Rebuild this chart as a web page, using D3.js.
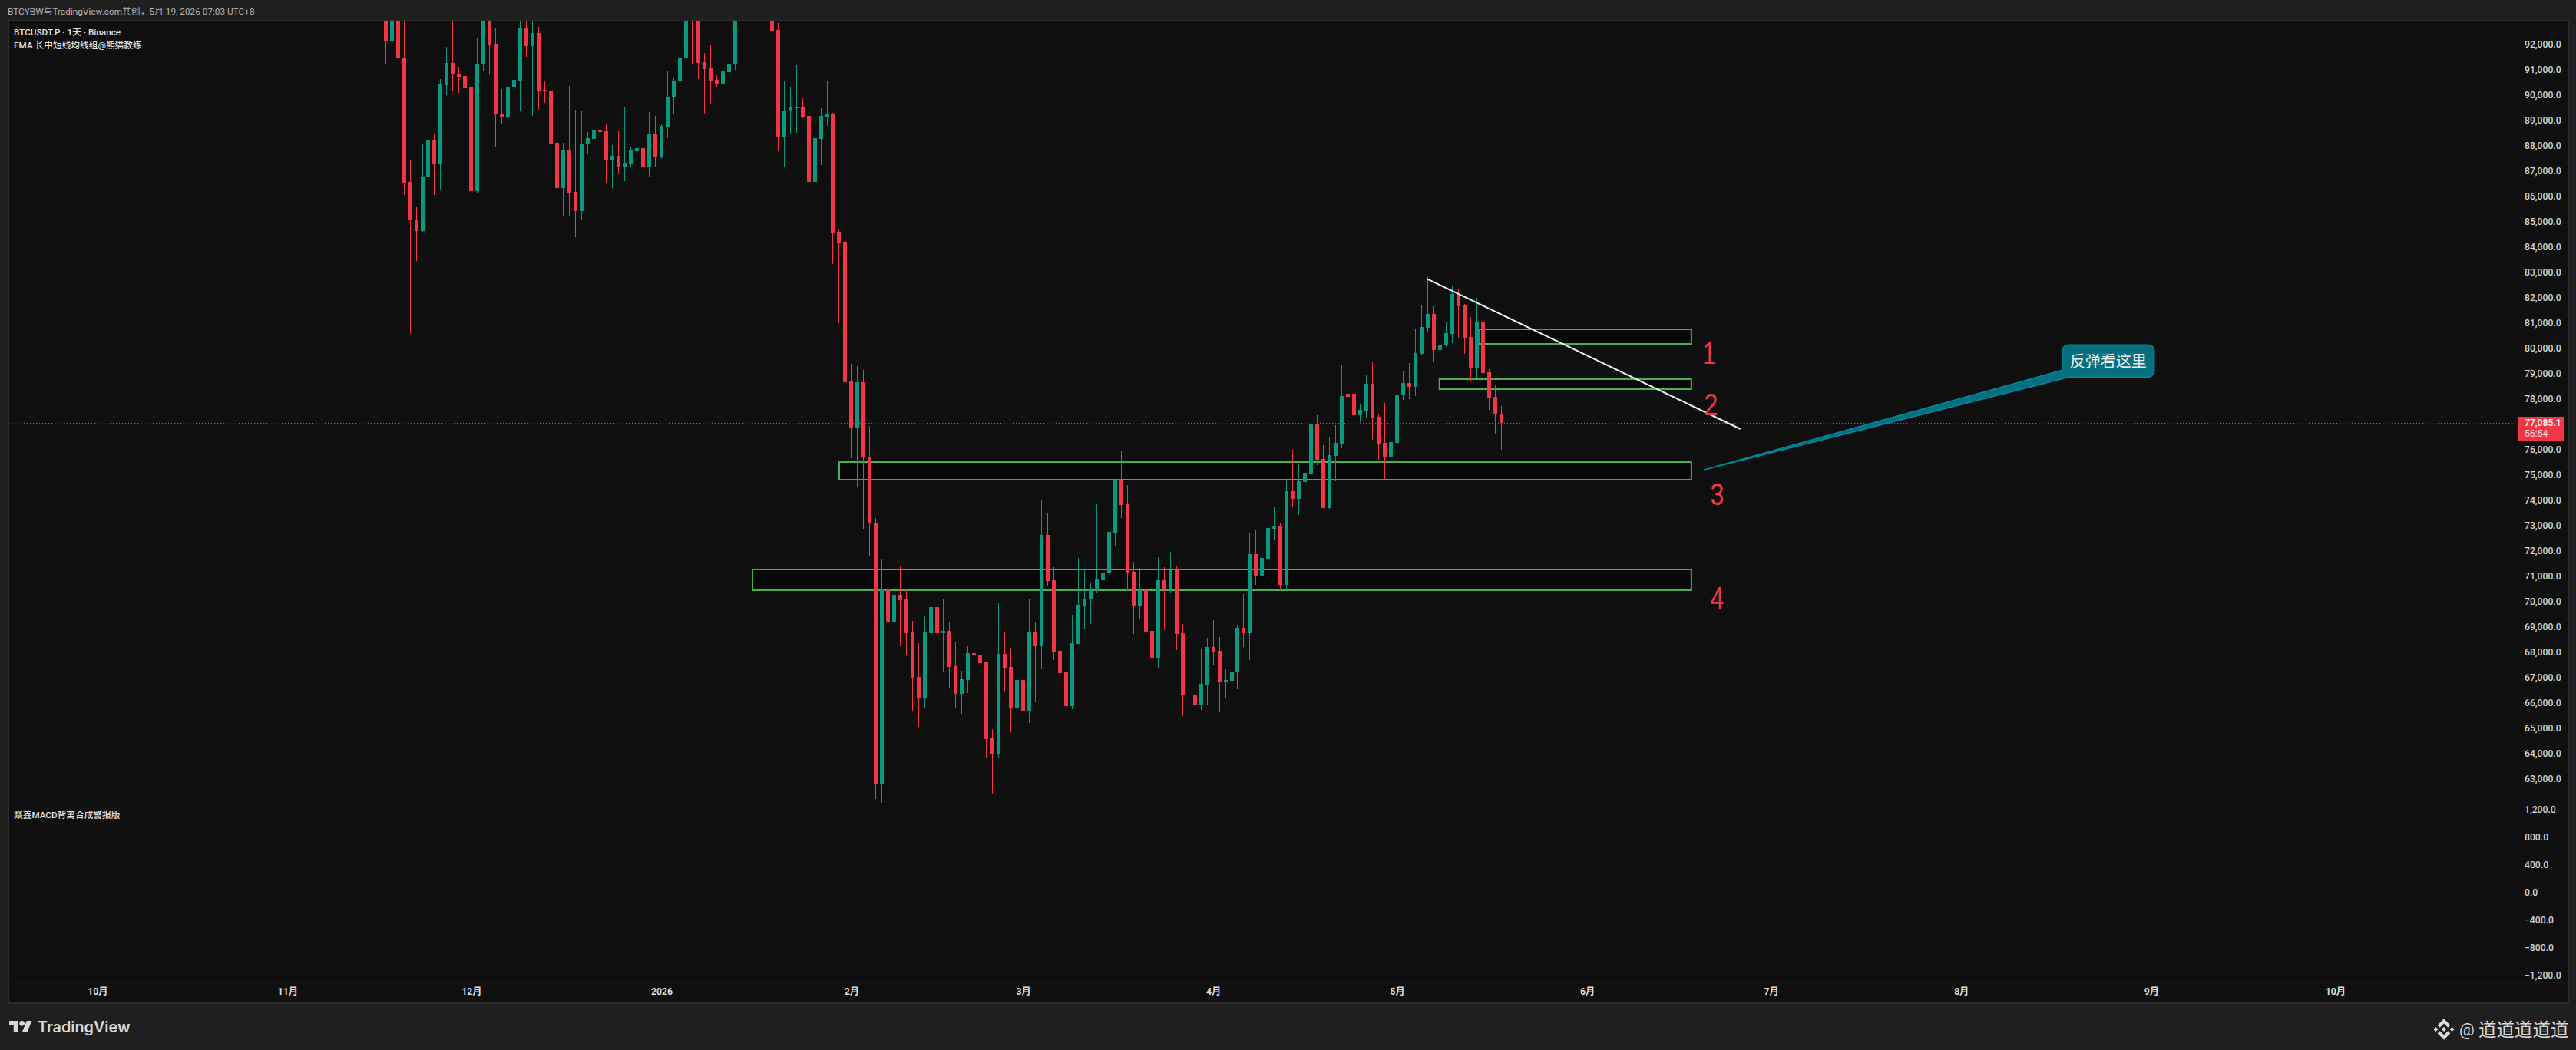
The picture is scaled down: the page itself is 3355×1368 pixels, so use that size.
<!DOCTYPE html>
<html>
<head>
<meta charset="utf-8">
<script src="https://cdnjs.cloudflare.com/ajax/libs/d3/7.8.5/d3.min.js"></script>
<style>
html, body { margin: 0; padding: 0; background: #1f1f1f; overflow: hidden; }
svg { display: block; }
text { font-family: Roboto, "Noto Sans CJK SC", sans-serif; }
</style>
</head>
<body>
<div id="graph"></div>
<script>
// daily bars, first one is 2025-11-16, last one is 2026-05-18 (still open)
var firstDay = Date.UTC(2025, 10, 16);

var opens = [
  93800,93500,92154,92932,91507,86599,85114,84660,86781,88265,
  87296,90417,91295,90871,90780,90326,86235,91235,93300,92053,
  89296,89174,90326,90598,92659,91962,92477,90235,90205,88144,
  86356,87841,86205,85447,88084,88296,88629,88599,87447,87629,
  87175,87296,87811,87932,87175,88477,87599,88780,89932,90568,
  91477,94400,93600,91326,91083,90629,90447,90932,91235,93300,
  94500,95400,95000,95600,93800,92598,88387,89386,89508,89568,
  89205,86599,88296,89174,89265,84630,84236,78721,76903,78691,
  75752,73144,62844,70537,69238,70299,70115,68816,67053,66209,
  68784,69812,68784,68870,67485,66393,66934,67994,67940,67637,
  64629,64001,67962,67453,65819,66934,65722,68816,68264,72657,
  70872,68091,67236,65906,68362,69877,70115,70472,70872,71142,
  72755,74843,73869,71207,69877,70493,68870,67810,70872,70504,
  71294,68784,66349,66328,65971,66750,68243,68091,66847,66904,
  67237,68995,68783,71903,71025,71722,72903,73024,70691,74388,
  74085,74752,75085,77024,75661,73721,75782,76267,78236,78236,
  77388,77569,78630,77327,76297,75721,76297,78176,78660,78509,
  79812,80842,81387,79963,80145,80600,82175,81720,80478,79266,
  81054,79084,78115,77448
];
var highs = [
  94000,94000,93100,93100,93000,87478,85599,88114,89174,88478,
  90659,91932,93000,91144,91932,90417,92295,93600,93700,92689,
  90265,91720,92265,93000,93000,93000,92720,90598,90447,89993,
  88144,90386,89447,89386,88568,89053,90598,88902,88053,88599,
  89568,87962,88084,90386,89356,89205,88902,90962,90720,91780,
  93700,95000,93800,91689,92023,90810,91265,92507,93600,95100,
  96000,95900,96300,96000,94300,92871,90598,90326,91205,89902,
  89296,88841,89508,90598,89326,84720,84260,79418,79327,79176,
  76964,73328,71727,71694,72300,71445,70515,69271,68394,69476,
  70569,70937,70115,69238,68448,67301,68297,68697,68243,67658,
  64997,69996,68849,68200,67756,68200,70115,69238,74053,73545,
  71391,68546,68178,69509,71748,71294,70753,73869,71272,73209,
  74865,75990,74627,71597,71359,71088,69574,71781,71391,71997,
  71424,69152,67301,67118,68145,68600,69303,68632,67356,67571,
  69116,70328,72752,72873,73146,73449,73782,73115,74873,76024,
  75449,75539,78297,77388,76206,76539,76994,79400,78660,78569,
  77842,78994,79478,77448,77873,76630,78903,79145,79448,80781,
  81751,82842,81690,80478,81054,82478,82357,81781,81266,82024,
  81630,79206,78569,77751
];
var lows = [
  92930,91275,89033,88578,86094,80600,83478,84630,85235,86094,
  86266,90023,90174,90114,90296,83781,86144,90962,90841,87993,
  88871,87690,89578,89386,91538,89205,89447,89720,87508,85084,
  85235,85266,84417,85084,87720,87568,87841,86538,86356,86902,
  86629,87205,87417,86781,86811,87205,87508,88326,89265,90568,
  91477,91235,90659,89265,89659,90356,90174,90083,91023,93000,
  94000,94300,94500,93600,91810,87811,87205,88477,88538,89114,
  86023,86478,87266,88811,83357,81024,75525,75676,74570,72917,
  71846,62238,62075,67269,68849,68264,67907,65722,65083,65841,
  68697,68026,67269,66598,65841,65603,66425,67485,67161,63882,
  62422,63882,66490,64878,62995,65029,65235,66090,67355,70634,
  67734,66847,65570,65787,68362,68935,69152,70364,70266,70818,
  72235,73328,70461,68751,69357,68513,67301,67421,68903,70385,
  68113,65516,65906,64932,65754,65938,67540,65689,66241,66752,
  66570,68237,67722,70691,70449,71388,72449,70479,70479,73782,
  73449,73267,74479,75418,73721,73691,74782,76085,76509,77206,
  77115,77297,76418,75630,74873,75267,76267,77994,78024,78145,
  79781,80660,79478,79145,80084,80236,80418,79812,78721,78872,
  78630,77600,76660,76024
];
var closes = [
  93400,92154,92932,91487,86569,85084,84660,86811,88265,87296,
  90447,91295,90841,90750,90296,86235,91265,93300,92023,89265,
  89174,90356,90629,92659,91962,92477,90205,90174,88114,86356,
  87841,86175,85447,88114,88326,88629,88568,87447,87629,87175,
  87326,87841,87932,87175,88477,87599,88811,89962,90598,91507,
  93400,93600,91295,91053,90598,90447,90962,91265,93300,94500,
  95400,95000,95600,93800,92568,88387,89417,89538,89568,89174,
  86599,88326,89205,89265,84599,84205,78691,76903,78691,75730,
  73112,62844,70537,69238,70299,70082,68784,67031,66209,68816,
  69812,68784,68870,67453,66393,66966,67994,67907,67604,64607,
  64001,67962,67421,65819,66934,65722,68816,68264,72657,70840,
  68059,67204,65906,68394,69909,70147,70472,70905,71175,72787,
  74843,73848,71175,69877,70472,68849,67810,70872,70504,71294,
  68751,66328,66328,65971,66782,68243,68059,66847,66934,67267,
  68995,68783,71903,71025,71752,72934,73024,70691,74388,74085,
  74782,75115,77024,75630,73721,75812,76297,78145,78115,77388,
  77600,78630,77297,76267,75721,76327,78206,78660,78509,79842,
  80872,81387,79963,80175,80630,82175,81690,80448,79266,81054,
  79054,78084,77418,77085
];
var lastPrice = 77085.1;
var countdown = "56:54";

var priceTicks = d3.range(63000, 92001, 1000);
var macdTicks = [1200, 800, 400, 0, -400, -800, -1200];
var monthDates = [
  Date.UTC(2025, 9, 1), Date.UTC(2025, 10, 1), Date.UTC(2025, 11, 1), Date.UTC(2026, 0, 1),
  Date.UTC(2026, 1, 1), Date.UTC(2026, 2, 1), Date.UTC(2026, 3, 1), Date.UTC(2026, 4, 1),
  Date.UTC(2026, 5, 1), Date.UTC(2026, 6, 1), Date.UTC(2026, 7, 1), Date.UTC(2026, 8, 1),
  Date.UTC(2026, 9, 1)
];
var monthLabels = ["10月", "11月", "12月", "2026", "2月", "3月", "4月", "5月", "6月", "7月", "8月", "9月", "10月"];

// drawn boxes, bar number is counted from firstDay
var zoneFrom = [179.3, 172.9, 75, 60.85];
var zoneTo = [214, 214, 214, 214];
var zoneHigh = [80781, 78812, 75539, 71297];
var zoneLow = [80206, 78418, 74842, 70479];

var trendBars = [170.9, 222];
var trendPrices = [82771, 76842];

var noteLabels = ["1", "2", "3", "4"];
var noteBars = [216.9, 217.2, 218.2, 218.2];
var notePrices = [79418, 77388, 73843, 69753];

var calloutText = "反弹看这里";
var calloutTip = [216.1, 75237];
var calloutBox = [274.5, 289.5, 80166, 78894];

var W = 3355, H = 1368;
var paneLeft = 11, paneRight = 3345, paneTop = 27, paneBottom = 1307;
var axisX = 3279, priceBottom = 1047, timeTop = 1280;
var green = "#089981", red = "#f23645";

var svg = d3.select("#graph").append("svg").attr("width", W).attr("height", H);

svg.append("rect").attr("width", W).attr("height", H).style("fill", "#1f1f1f");
svg.append("rect")
    .attr("x", paneLeft).attr("y", paneTop)
    .attr("width", paneRight - paneLeft).attr("height", paneBottom - paneTop)
    .style("fill", "#0f0f0f").style("stroke", "#2c2c2c").style("stroke-width", 2);

// faint separators between the panes
var seps = [[paneLeft, priceBottom, axisX, priceBottom], [paneLeft, timeTop, paneRight, timeTop],
            [axisX, paneTop, axisX, paneBottom], [axisX, priceBottom, paneRight, priceBottom]];
svg.selectAll("line.sep").data(seps).enter().append("line").attr("class", "sep")
    .attr("x1", function(d) { return d[0]; }).attr("y1", function(d) { return d[1] + 0.5; })
    .attr("x2", function(d) { return d[2]; }).attr("y2", function(d) { return d[3] + 0.5; })
    .style("stroke", "#171717");

// scales
var x = d3.scaleUtc()
    .domain([monthDates[0], monthDates[monthDates.length - 1]])
    .range([126.8, 3041.3]);
var y = d3.scaleLinear().domain([63000, 92000]).range([1015.8, 58.8]);
var yMacd = d3.scaleLinear().domain([-1200, 1200]).range([1270.7, 1055]);

function barX(i) { return x(firstDay + i * 86400000); }

svg.append("clipPath").attr("id", "priceClip").append("rect")
    .attr("x", paneLeft + 1).attr("y", paneTop).attr("width", axisX - paneLeft - 1).attr("height", priceBottom - paneTop);

var chart = svg.append("g").attr("clip-path", "url(#priceClip)");

// zones sit under the candles
chart.selectAll("rect.zone").data(zoneFrom).enter().append("rect").attr("class", "zone")
    .attr("x", function(d) { return barX(d); })
    .attr("y", function(d, i) { return y(zoneHigh[i]); })
    .attr("width", function(d, i) { return barX(zoneTo[i]) - barX(d); })
    .attr("height", function(d, i) { return y(zoneLow[i]) - y(zoneHigh[i]); })
    .style("fill", "rgba(0,0,0,0.45)")
    .style("stroke", "#4caf50")
    .style("stroke-width", 2);

// last price line
chart.append("line")
    .attr("x1", paneLeft).attr("x2", axisX)
    .attr("y1", Math.round(y(lastPrice)) + 0.5).attr("y2", Math.round(y(lastPrice)) + 0.5)
    .style("stroke", red).style("stroke-dasharray", "1.3 2.7");

var bars = d3.range(opens.length);

chart.selectAll("rect.wick").data(bars).enter().append("rect").attr("class", "wick")
    .attr("x", function(i) { return Math.round(barX(i) - 0.5); })
    .attr("y", function(i) { return Math.round(y(highs[i])); })
    .attr("width", 1)
    .attr("height", function(i) { return Math.round(y(lows[i])) - Math.round(y(highs[i])); })
    .style("fill", function(i) { return closes[i] >= opens[i] ? green : red; });

chart.selectAll("rect.body").data(bars).enter().append("rect").attr("class", "body")
    .attr("x", function(i) { return Math.round(barX(i) - 2.5); })
    .attr("y", function(i) { return Math.round(y(Math.max(opens[i], closes[i]))); })
    .attr("width", 5)
    .attr("height", function(i) {
        return Math.max(1, Math.round(y(Math.min(opens[i], closes[i]))) - Math.round(y(Math.max(opens[i], closes[i]))));
    })
    .style("fill", function(i) { return closes[i] >= opens[i] ? green : red; });

// trend line
chart.append("line")
    .attr("x1", barX(trendBars[0])).attr("y1", y(trendPrices[0]))
    .attr("x2", barX(trendBars[1])).attr("y2", y(trendPrices[1]))
    .style("stroke", "#f2f2f2").style("stroke-width", 2);

// callout with its long tail
var bx0 = barX(calloutBox[0]), bx1 = barX(calloutBox[1]), by0 = y(calloutBox[2]), by1 = y(calloutBox[3]);
var r = 8;
var p = d3.path();
p.moveTo(barX(calloutTip[0]), y(calloutTip[1]));
p.lineTo(bx0, by1 - 9);
p.arcTo(bx0, by0, bx0 + r, by0, r);
p.arcTo(bx1, by0, bx1, by0 + r, r);
p.arcTo(bx1, by1, bx1 - r, by1, r);
p.lineTo(bx0 + 9, by1);
p.closePath();
chart.append("path").attr("d", p.toString())
    .style("fill", "#056f7d").style("stroke", "#00899c").style("stroke-width", 1.6).style("stroke-linejoin", "round");
chart.append("text")
    .attr("x", (bx0 + bx1) / 2).attr("y", (by0 + by1) / 2 - 1)
    .attr("text-anchor", "middle").attr("dominant-baseline", "central")
    .style("font-family", '"Noto Sans CJK SC"').style("font-size", "20px").style("fill", "#f0f0f0")
    .text(calloutText);

// red numbers beside the zones, squeezed because the original font is narrow
chart.selectAll("text.note").data(noteLabels).enter().append("text").attr("class", "note")
    .attr("transform", function(d, i) {
        return "translate(" + barX(noteBars[i]) + "," + y(notePrices[i]) + ") scale(0.8,1)";
    })
    .attr("text-anchor", "middle")
    .style("font-family", '"Liberation Sans"')
    .style("font-size", "40px")
    .style("fill", red)
    .text(function(d) { return d; });

// axes
var priceAxis = d3.axisRight(y).tickValues(priceTicks).tickFormat(d3.format(",.1f")).tickSize(0).tickPadding(0);
var macdAxis = d3.axisRight(yMacd).tickValues(macdTicks).tickFormat(d3.format(",.1f")).tickSize(0).tickPadding(0);
var timeAxis = d3.axisBottom(x).tickValues(monthDates)
    .tickFormat(function(d, i) { return monthLabels[i]; }).tickSize(0).tickPadding(0);

svg.append("g").attr("transform", "translate(3288,-1)").call(priceAxis)
    .call(function(g) { g.select(".domain").remove(); })
    .selectAll("text").style("font-size", "12.2px").style("font-weight", 500).style("fill", "#d4d4d4");
svg.append("g").attr("transform", "translate(3288,0)").call(macdAxis)
    .call(function(g) { g.select(".domain").remove(); })
    .selectAll("text").style("font-size", "12.2px").style("font-weight", 500).style("fill", "#d4d4d4");
svg.append("g").attr("transform", "translate(0,1287)").call(timeAxis)
    .call(function(g) { g.select(".domain").remove(); })
    .selectAll("text")
    .style("font-family", 'Roboto, "Noto Sans CJK SC"')
    .style("font-size", "12.2px").style("font-weight", 700).style("fill", "#dcdcdc");

// last price tag
svg.append("rect").attr("x", 3280).attr("y", 543).attr("width", 60).attr("height", 31).style("fill", red);
svg.append("text").attr("x", 3288).attr("y", 555)
    .style("font-size", "12.2px").style("font-weight", 500).style("fill", "#ffffff")
    .text(d3.format(",.1f")(lastPrice));
svg.append("text").attr("x", 3288).attr("y", 569)
    .style("font-size", "12.2px").style("fill", "#f7dde0")
    .text(countdown);

// header and legends
svg.append("text").attr("x", 10).attr("y", 19)
    .style("font-size", "11.8px").style("fill", "#b4b4b4")
    .text("BTCYBW与TradingView.com共创，5月 19, 2026 07:03 UTC+8");
var legends = [["BTCUSDT.P · 1天 · Binance", 46], ["EMA 长中短线均线组@熊猫教练", 63], ["燚鑫MACD背离合成警报版", 1066]];
svg.selectAll("text.legend").data(legends).enter().append("text").attr("class", "legend")
    .attr("x", 18).attr("y", function(d) { return d[1]; })
    .style("font-size", "11.7px").style("font-weight", 500).style("fill", "#e2e2e2")
    .text(function(d) { return d[0]; });

// footer: tradingview logo and name
var logo = svg.append("g").attr("transform", "translate(12,1324.2) scale(0.83)").style("fill", "#d8d8d8");
logo.append("path").attr("d", "M14 25H7V14H0V7h14v18zM28 25h-8l7.5-18h8L28 25z");
logo.append("circle").attr("cx", 20).attr("cy", 11).attr("r", 4);
svg.append("text").attr("x", 49).attr("y", 1345)
    .style("font-family", "Inter, Roboto").style("font-size", "19.8px").style("font-weight", 600).style("fill", "#d8d8d8")
    .text("TradingView");

// binance watermark
svg.append("path")
    .attr("transform", "translate(3169.3,1327.3) scale(0.216)")
    .attr("d", "M38.73 53.2l24.59-24.58 24.6 24.6 14.3-14.31L63.32 0 24.43 38.9zM0 63.31l14.3-14.31 14.31 14.31-14.31 14.3zM38.73 73.41l24.59 24.59 24.6-24.6 14.31 14.29-38.9 38.91-38.91-38.88-.02-.02zM98 63.31l14.3-14.31 14.31 14.3-14.31 14.32zM77.83 63.3l-14.51-14.52L52.59 59.51l-1.24 1.23-2.54 2.54 14.51 14.5 14.51-14.47z")
    .style("fill", "#dcdcdc");
svg.append("text").attr("x", 3203).attr("y", 1349)
    .style("font-size", "22px").style("fill", "#d8d8d8").text("@");
svg.append("text").attr("x", 3228).attr("y", 1350)
    .style("font-family", '"Noto Sans CJK SC"').style("font-size", "23.5px").style("fill", "#d8d8d8")
    .text("道道道道道");
</script>
</body>
</html>
